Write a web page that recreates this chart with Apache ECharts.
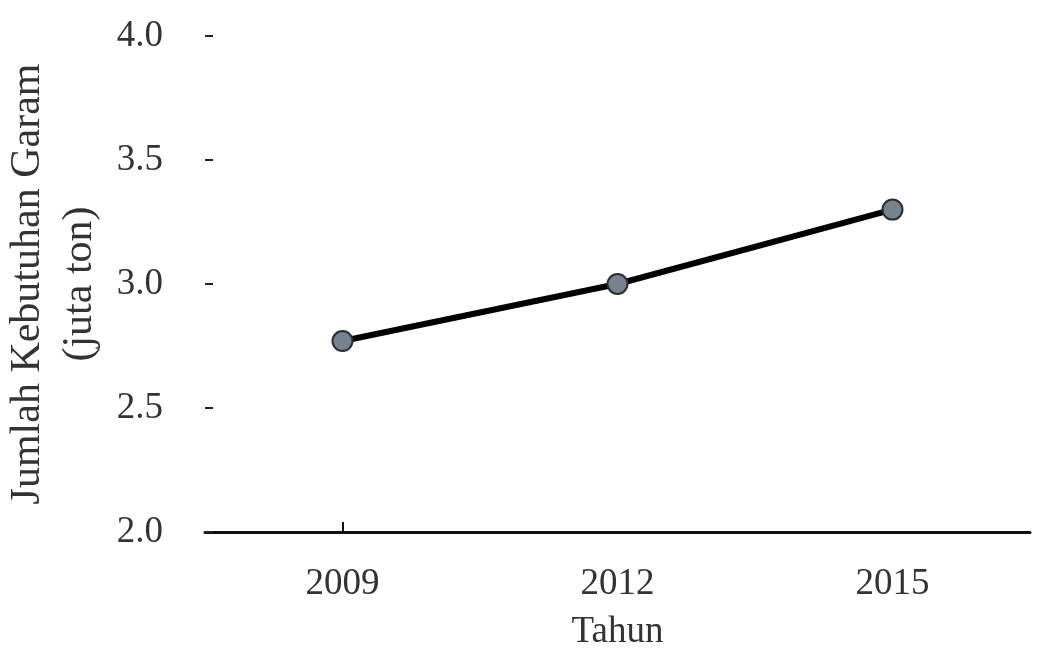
<!DOCTYPE html>
<html>
<head>
<meta charset="utf-8">
<script src="https://cdn.jsdelivr.net/npm/echarts@6/dist/echarts.min.js"></script>
<style>html,body{margin:0;padding:0;background:#fff}#c{width:1042px;height:663px}</style>
</head>
<body>
<div id="c"></div>
<script>
const years = ['2009', '2012', '2015'];
const kebutuhan = [2.77, 3.0, 3.3];
const yTicks = ['2.0', '2.5', '3.0', '3.5', '4.0'];

const chart = echarts.init(document.getElementById('c'));
const font = 'Liberation Serif';
chart.setOption({
  animation: false,
  grid: { left: 205, right: 12, top: 36, bottom: 131, outerBoundsMode: 'none', containLabel: false },
  xAxis: {
    type: 'category',
    data: years,
    boundaryGap: true,
    name: 'Tahun',
    nameLocation: 'middle',
    nameGap: 82,
    nameTextStyle: { fontFamily: font, fontSize: 37, color: '#333' },
    axisLine: { lineStyle: { color: '#111', width: 3 } },
    axisTick: { show: true, inside: true, length: 10, alignWithLabel: true,
      interval: function (i) { return i === 0; },
      lineStyle: { color: '#111', width: 2 } },
    axisLabel: { fontFamily: font, fontSize: 37, color: '#333', margin: 34 }
  },
  yAxis: {
    type: 'value',
    min: 2.0, max: 4.0, interval: 0.5,
    name: 'Jumlah Kebutuhan Garam\n(juta ton)',
    nameLocation: 'middle',
    nameRotate: 90,
    nameGap: 98,
    nameTextStyle: { fontFamily: font, fontSize: 42, color: '#333', lineHeight: 52 },
    splitLine: { show: false },
    axisLine: { show: false },
    axisTick: { show: true, inside: true, length: 8, lineStyle: { color: '#222', width: 2 } },
    axisLabel: {
      fontFamily: font, fontSize: 37, color: '#333', margin: 42,
      formatter: function (v) { return yTicks[Math.round((v - 2) / 0.5)] || v.toFixed(1); }
    }
  },
  series: [{
    type: 'line',
    data: kebutuhan,
    lineStyle: { color: '#000', width: 6 },
    symbol: 'circle',
    symbolSize: 20,
    itemStyle: { color: '#76838f', borderColor: '#2a2f35', borderWidth: 2 }
  }]
});
</script>
</body>
</html>
